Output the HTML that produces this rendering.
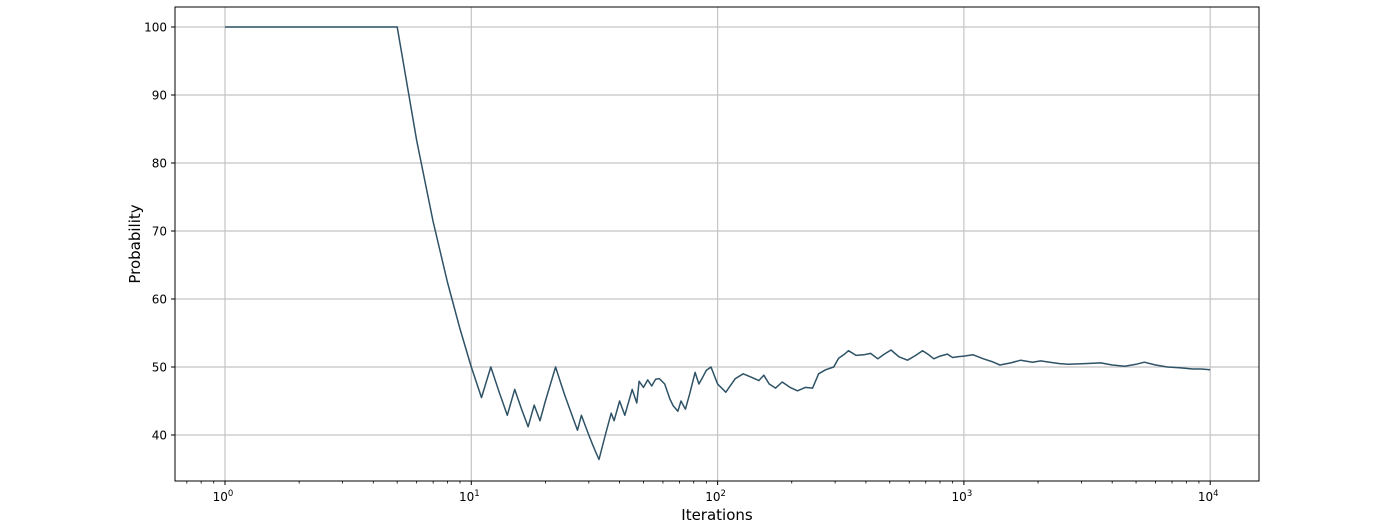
<!DOCTYPE html>
<html><head><meta charset="utf-8"><style>
body{margin:0;background:#fff;}
svg{display:block;font-family:"DejaVu Sans","Liberation Sans",sans-serif;}
</style></head><body>
<svg id="chart" width="1400" height="524"></svg>
<script>
const iterations=[1,2,3,4,5,6,7,8,9,10,11,12,13,14,15,16,17,18,19,20,21,22,23,24,25,26,27,28,29,30,31,32,33,35,37,38,40,42,45,47,48,50,52,54,56,58,61,64,66,69,71,74,77,81,84,87,90,94,100,108,118,127,137,147,154,162,172,183,197,211,227,243,257,275,296,310,325,340,365,392,418,447,475,506,545,590,630,680,720,755,800,857,900,943,1000,1090,1200,1300,1400,1550,1700,1900,2050,2230,2450,2650,3100,3600,4000,4500,5000,5400,6000,6700,7500,8500,9200,10000];
const probability=[100,100,100,100,100,83.3,71.4,62.5,55.6,50,45.5,50,46.2,42.9,46.7,43.8,41.2,44.4,42.1,45,47.6,50,47.8,45.8,44,42.3,40.7,42.9,41.4,40,38.7,37.5,36.4,40,43.2,42.1,45,42.9,46.7,44.7,47.9,47,48.1,47.2,48.2,48.3,47.5,45.3,44.3,43.5,45,43.8,46,49.2,47.5,48.5,49.5,50,47.5,46.3,48.3,49,48.5,48,48.8,47.5,46.9,47.8,47,46.5,47,46.9,49,49.6,50,51.3,51.8,52.4,51.7,51.8,52,51.2,51.9,52.5,51.5,51,51.6,52.4,51.8,51.2,51.6,51.9,51.4,51.5,51.6,51.8,51.2,50.8,50.3,50.6,51,50.7,50.9,50.7,50.5,50.4,50.5,50.6,50.3,50.1,50.4,50.7,50.3,50,49.9,49.7,49.7,49.6];
const yTicks=[40,50,60,70,80,90,100];
const xDecades=[0,1,2,3,4];
const NS='http://www.w3.org/2000/svg';
const svg=document.getElementById('chart');
const L=175,R=1259,T=7,B=481;
const x=v=>225+Math.log10(v)*246.3;
const y=v=>27+(100-v)*6.8;
function mk(t,a,p){const e=document.createElementNS(NS,t);for(const k in a)e.setAttribute(k,a[k]);(p||svg).appendChild(e);return e;}
const grid=mk('g',{});


yTicks.forEach(v=>{
  mk('line',{x1:L,x2:R,y1:y(v),y2:y(v),stroke:'#c4c4c4','stroke-width':1.2},grid);
  mk('line',{x1:L-4,x2:L,y1:y(v),y2:y(v),stroke:'#000'});
  const t=mk('text',{x:L-8,y:y(v)+4.5,'text-anchor':'end','font-size':12,fill:'#000'});
  t.textContent=v;
  
  
});
xDecades.forEach(d=>{
  const px=x(Math.pow(10,d));
  mk('line',{x1:px,x2:px,y1:T,y2:B,stroke:'#c4c4c4','stroke-width':1.2},grid);
  mk('line',{x1:px,x2:px,y1:B,y2:B+4,stroke:'#000'});
  const t=mk('text',{x:px-2,y:B+20,'text-anchor':'middle','font-size':12,fill:'#000'});
  
  
  t.innerHTML='10<tspan dy="-5" font-size="8.5">'+d+'</tspan>';
});
for(let d=-1;d<=4;d++){for(let m=2;m<=9;m++){const v=m*Math.pow(10,d);const px=x(v);if(px<L||px>R)continue;mk('line',{x1:px,x2:px,y1:B,y2:B+2.5,stroke:'#000','stroke-width':0.8});}}
const pts=iterations.map((n,i)=>x(n).toFixed(1)+','+y(probability[i]).toFixed(1)).join(' ');
const line=mk('polyline',{points:pts,fill:'none',stroke:'#2e5266','stroke-width':1.5,'stroke-linejoin':'round'});


const frame=mk('rect',{x:L,y:T,width:R-L,height:B-T,fill:'none',stroke:'#000','stroke-width':1});


const xl=mk('text',{x:(L+R)/2,y:520,'text-anchor':'middle','font-size':15,fill:'#000'});xl.textContent='Iterations';


const yl=mk('text',{x:140,y:(T+B)/2,'text-anchor':'middle','font-size':15,fill:'#000',transform:'rotate(-90 140 '+((T+B)/2)+')'});yl.textContent='Probability';


</script>
</body></html>
